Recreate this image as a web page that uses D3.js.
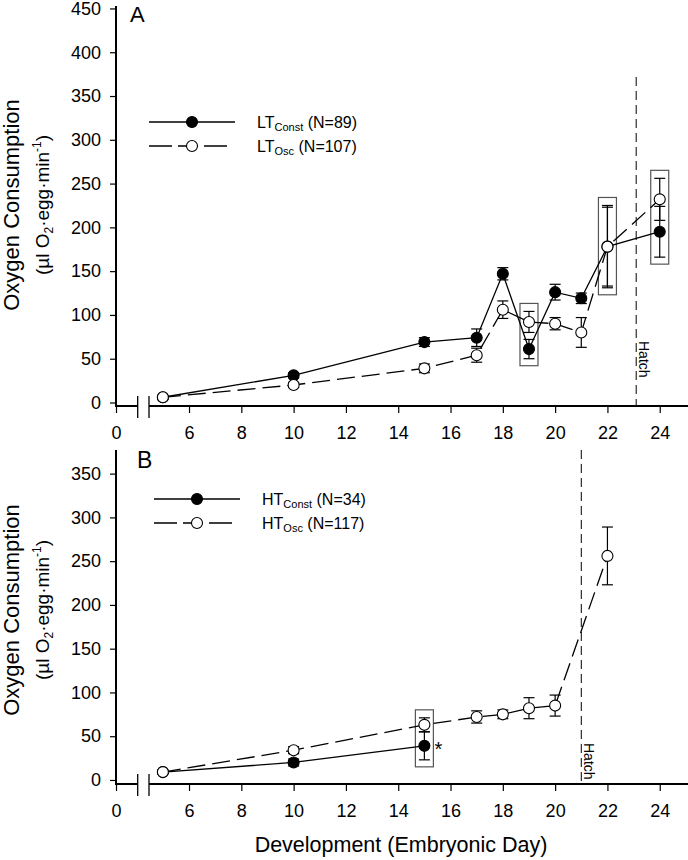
<!DOCTYPE html>
<html>
<head>
<meta charset="utf-8">
<script src="https://cdn.jsdelivr.net/npm/d3@7/dist/d3.min.js"></script>
<style>
  html, body { margin: 0; padding: 0; background: #fff; }
  svg { display: block; font-family: "Liberation Sans", Arial, sans-serif; }
</style>
</head>
<body>
<svg id="chart" width="688" height="860"></svg>
<script>
// ---------------- DATA ----------------
const xTickValues = [0, 6, 8, 10, 12, 14, 16, 18, 20, 22, 24];
const yTicksA = [0, 50, 100, 150, 200, 250, 300, 350, 400, 450];
const yTicksB = [0, 50, 100, 150, 200, 250, 300, 350];

// Panel A (LT)
const daysA = [5, 10, 15, 17, 18, 19, 20, 21, 22, 24];
const ltConst = [6, 31, 69, 74, 147, 61, 126, 119, 178, 195];
const ltConstErr = [2, 3, 5, 10, 7, 11, 9, 6, 45, 29];
const ltOsc = [6, 20, 39, 54, 106, 92, 90, 80, 178, 232];
const ltOscErr = [2, 3, 5, 8, 10, 12, 7, 17, 47, 24];
const boxedDaysA = [19, 22, 24];
const hatchDayA = 23.1;

// Panel B (HT)
const daysBConst = [5, 10, 15];
const htConst = [9, 20, 39];
const htConstErr = [2, 4, 16];
const daysBOsc = [5, 10, 15, 17, 18, 19, 20, 22];
const htOsc = [9, 34, 63, 72, 75, 82, 85, 256];
const htOscErr = [2, 4, 8, 7, 5, 12, 12, 33];
const boxedDaysB = [15];
const starDayB = 15;
const hatchDayB = 21;

// ---------------- SETUP ----------------
const svg = d3.select("#chart");
svg.append("rect").attr("width", 688).attr("height", 860).attr("fill", "#fff");

const x = d3.scaleLinear().domain([0, 4.5, 25.1]).range([116, 149.8, 688.5]);
const breakL = 137.7, breakR = 149;

const dashSeries = "18,7";

function zip(days, vals, errs) {
  return days.map((d, i) => ({ d, v: vals[i], e: errs[i] }));
}

function drawPanel(cfg) {
  const g = svg.append("g");
  const y = cfg.y;
  const y0 = y.range()[0];

  // Y axis
  const yAxis = d3.axisLeft(y).tickValues(cfg.yTicks).tickSize(6).tickPadding(9).tickSizeOuter(0);
  const ya = g.append("g").attr("transform", `translate(${x(0)},0)`).call(yAxis);
  ya.select(".domain").attr("stroke-width", 2).attr("d", `M0,${y.range()[1]}V${y0}`);
  ya.selectAll(".tick line").attr("stroke-width", 1.2);
  ya.selectAll(".tick text").attr("font-size", 18).attr("fill", "#000").attr("font-family", '"Liberation Sans", Arial, sans-serif');

  // X axis
  const xAxis = d3.axisBottom(x).tickValues(xTickValues).tickSize(7).tickPadding(13).tickFormat(d3.format("d"));
  const xa = g.append("g").attr("transform", `translate(0,${y0})`).call(xAxis);
  xa.select(".domain").remove();
  xa.selectAll(".tick line").attr("stroke-width", 1.2);
  xa.selectAll(".tick text").attr("font-size", 18).attr("fill", "#000").attr("font-family", '"Liberation Sans", Arial, sans-serif');
  xa.append("line").attr("x1", x(0) - 1).attr("x2", breakL).attr("y1", 0).attr("y2", 0).attr("stroke", "#000").attr("stroke-width", 2);
  xa.append("line").attr("x1", breakR).attr("x2", x.range()[2]).attr("y1", 0).attr("y2", 0).attr("stroke", "#000").attr("stroke-width", 2);
  [breakL, breakR].forEach(bx => {
    xa.append("line").attr("x1", bx).attr("x2", bx).attr("y1", -10).attr("y2", 12).attr("stroke", "#000").attr("stroke-width", 1.3);
  });

  // Hatch line
  g.append("line").attr("x1", x(cfg.hatchDay)).attr("x2", x(cfg.hatchDay))
    .attr("y1", cfg.hatchTop).attr("y2", y0).attr("stroke", "#000").attr("stroke-width", 1).attr("stroke-dasharray", "9,5");
  g.append("text").attr("transform", `translate(${x(cfg.hatchDay) + 2.5},${cfg.hatchTextY}) rotate(90)`)
    .attr("font-size", 14).attr("fill", "#000").text("Hatch");

  // Boxes
  const all = cfg.series.flatMap(s => s.data);
  cfg.boxed.forEach(day => {
    const pts = all.filter(p => p.d === day);
    const yTop = d3.min(pts, p => y(p.v + p.e)) - 8;
    const yBot = d3.max(pts, p => y(p.v - p.e)) + 7;
    g.append("rect").attr("x", x(day) - 9).attr("y", yTop).attr("width", 18).attr("height", yBot - yTop)
      .attr("fill", "none").attr("stroke", "#555").attr("stroke-width", 1.2);
  });

  // Lines
  const line = d3.line().x(p => x(p.d)).y(p => y(p.v));
  cfg.series.forEach(s => {
    g.append("path").attr("d", line(s.data)).attr("fill", "none").attr("stroke", "#000")
      .attr("stroke-width", 1.3).attr("stroke-dasharray", s.dashed ? dashSeries : null);
  });

  // Error bars
  cfg.series.forEach(s => {
    s.data.forEach(p => {
      const cx = x(p.d), yt = y(p.v + p.e), yb = y(p.v - p.e);
      g.append("line").attr("x1", cx).attr("x2", cx).attr("y1", yt).attr("y2", yb).attr("stroke", "#000").attr("stroke-width", 1.2);
      [yt, yb].forEach(yy => g.append("line").attr("x1", cx - 5.5).attr("x2", cx + 5.5).attr("y1", yy).attr("y2", yy)
        .attr("stroke", "#000").attr("stroke-width", 1.2));
    });
  });

  // Markers
  cfg.series.forEach(s => {
    g.selectAll(null).data(s.data).enter().append("circle")
      .attr("cx", p => x(p.d)).attr("cy", p => y(p.v)).attr("r", 5.5)
      .attr("fill", s.dashed ? "#fff" : "#000").attr("stroke", "#000").attr("stroke-width", 1.1);
  });

  // Panel letter
  g.append("text").attr("x", cfg.letterX).attr("y", cfg.letterY).attr("font-size", cfg.letterSize).attr("fill", "#000").text(cfg.letter);

  // Legend
  cfg.series.forEach((s, i) => {
    const ly = cfg.legendY[i];
    const lx0 = cfg.legendX, lx1 = s.dashed ? lx0 + 79 : lx0 + 86;
    g.append("line").attr("x1", lx0).attr("x2", lx1).attr("y1", ly).attr("y2", ly).attr("stroke", "#000")
      .attr("stroke-width", 1.3).attr("stroke-dasharray", s.dashed ? "23,6,20,6,23" : null);
    g.append("circle").attr("cx", lx0 + 43).attr("cy", ly).attr("r", 5.5)
      .attr("fill", s.dashed ? "#fff" : "#000").attr("stroke", "#000").attr("stroke-width", 1.1);
    const t = g.append("text").attr("x", cfg.legendTextX).attr("y", ly + 6).attr("font-size", 16).attr("fill", "#000");
    t.append("tspan").text(s.prefix);
    t.append("tspan").attr("font-size", 11).attr("dy", 3).text(s.sub);
    t.append("tspan").attr("dy", -3).text(" " + s.n);
  });

  // Y title
  const tt = g.append("g").attr("transform", `translate(0,${cfg.titleY}) rotate(-90)`);
  tt.append("text").attr("x", 0).attr("y", 19).attr("text-anchor", "middle").attr("font-size", 22).attr("fill", "#000").text("Oxygen Consumption");
  const t2 = tt.append("text").attr("x", 0).attr("y", 49).attr("text-anchor", "middle").attr("font-size", 19).attr("fill", "#000");
  t2.append("tspan").text("(µl O");
  t2.append("tspan").attr("font-size", 12).attr("dy", 4).text("2");
  t2.append("tspan").attr("dy", -4).text("·egg·min");
  t2.append("tspan").attr("font-size", 12).attr("dy", -8).text("-1");
  t2.append("tspan").attr("dy", 8).text(")");

  return g;
}

// Panel A
const yA = d3.scaleLinear().domain([-4, 452.8]).range([406, 6]);
drawPanel({
  y: yA, yTicks: yTicksA,
  series: [
    { data: zip(daysA, ltConst, ltConstErr), dashed: false, prefix: "LT", sub: "Const", n: "(N=89)" },
    { data: zip(daysA, ltOsc, ltOscErr), dashed: true, prefix: "LT", sub: "Osc", n: "(N=107)" }
  ],
  boxed: boxedDaysA, hatchDay: hatchDayA, hatchTop: 77, hatchTextY: 341,
  letter: "A", letterX: 130, letterY: 22, letterSize: 22,
  legendX: 149, legendY: [122, 146], legendTextX: 257,
  titleY: 205
});

// Panel B
const yB = d3.scaleLinear().domain([-4.6, 377]).range([784, 450]);
const gB = drawPanel({
  y: yB, yTicks: yTicksB,
  series: [
    { data: zip(daysBConst, htConst, htConstErr), dashed: false, prefix: "HT", sub: "Const", n: "(N=34)" },
    { data: zip(daysBOsc, htOsc, htOscErr), dashed: true, prefix: "HT", sub: "Osc", n: "(N=117)" }
  ],
  boxed: boxedDaysB, hatchDay: hatchDayB, hatchTop: 450, hatchTextY: 743,
  letter: "B", letterX: 137, letterY: 468, letterSize: 23,
  legendX: 154, legendY: [499, 523], legendTextX: 262,
  titleY: 610
});

// significance star
gB.append("text").attr("x", x(starDayB) + 10).attr("y", yB(htConst[daysBConst.indexOf(starDayB)]) + 10)
  .attr("font-size", 20).attr("fill", "#000").text("*");

// X title
svg.append("text").attr("x", 401).attr("y", 852).attr("text-anchor", "middle").attr("font-size", 21.5).attr("fill", "#000")
  .text("Development (Embryonic Day)");
</script>
</body>
</html>
